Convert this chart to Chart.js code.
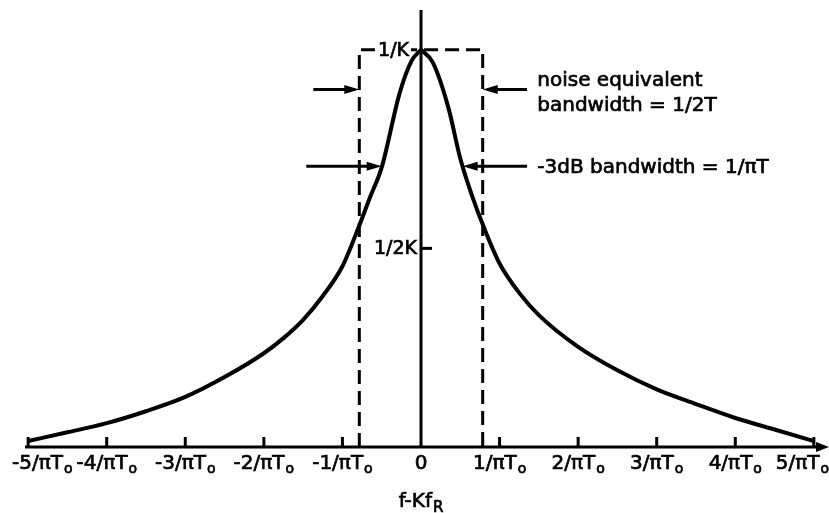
<!DOCTYPE html>
<html>
<head>
<meta charset="utf-8">
<script src="https://cdn.jsdelivr.net/npm/chart.js@4/dist/chart.umd.min.js"></script>
<style>
html, body { margin: 0; padding: 0; background: #fff; }
#chartBox { position: relative; width: 829px; height: 513px; }
</style>
</head>
<body>
<div id="chartBox"><canvas id="responseChart"></canvas></div>
<script>
// offset f-Kf_R in units of 1/(pi T0), response relative to the peak 1/K
var freqOffset = [-5, -4.5, -4, -3.5, -3, -2.5, -2, -1.75, -1.5, -1.25, -1, -0.8, -0.65, -0.5, -0.27, -0.12, 0,
                  0.15, 0.35, 0.5, 0.65, 0.8, 1, 1.25, 1.5, 2, 2.5, 3, 3.5, 4, 4.5, 5];
var response = [0.015, 0.037, 0.060, 0.090, 0.126, 0.176, 0.236, 0.274, 0.320, 0.380, 0.455, 0.550, 0.628, 0.704, 0.892, 0.972, 1.0,
                0.968, 0.853, 0.726, 0.632, 0.553, 0.462, 0.388, 0.332, 0.252, 0.193, 0.145, 0.108, 0.073, 0.044, 0.015];

// noise equivalent rectangle, half width 1/4T
var noiseBoxX = [-0.785, -0.785, 0.785, 0.785];
var noiseBoxY = [0, 1, 1, 0];

// x axis ticks
var tickValues = [-5, -4, -3, -2, -1, 0, 1, 2, 3, 4, 5];
var tickText = ["-5/πT", "-4/πT", "-3/πT", "-2/πT", "-1/πT", "0", "1/πT", "2/πT", "3/πT", "4/πT", "5/πT"];
var tickSub = ["o", "o", "o", "o", "o", "", "o", "o", "o", "o", "o"];

// levels marked on the vertical axis
var levelValues = [1, 0.5];
var levelText = ["1/K", "1/2K"];

// bandwidth markers: arrow level, tip and tail positions
var noiseArrowLevel = 0.9;
var noiseArrowTip = [-0.785, 0.785];
var noiseArrowTail = [-1.37, 1.35];
var halfPowerLevel = 0.707;
var halfPowerTip = [-0.5, 0.53];
var halfPowerTail = [-1.46, 1.35];

var mainFont = "20px 'DejaVu Sans'";
var subFont = "14px 'DejaVu Sans'";

// slightly heavier text than the plain face
function heavyText(ctx, text, x, y)
{
    ctx.fillText(text, x, y);
    ctx.lineWidth = 0.7;
    ctx.strokeText(text, x, y);
}

function drawSubText(ctx, main, sub, x, y, align, font, sFont, drop, maxRight)
{
    ctx.font = font;
    var w1 = ctx.measureText(main).width;
    ctx.font = sFont;
    var w2 = sub ? ctx.measureText(sub).width + 1 : 0;
    var total = w1 + w2;
    var start = x;
    if (align == "center") start = x - total / 2;
    if (align == "right") start = x - total;
    if (start < 12) start = 12;
    if (maxRight && start + total > maxRight) start = maxRight - total;
    ctx.textAlign = "left";
    ctx.textBaseline = "alphabetic";
    ctx.font = font;
    heavyText(ctx, main, start, y);
    if (sub)
    {
        ctx.font = sFont;
        heavyText(ctx, sub, start + w1 + 1, y + drop);
    }
}

function drawArrow(ctx, x1, x2, y)
{
    // shaft from x1 to the tip at x2
    var dir = x2 > x1 ? 1 : -1;
    ctx.lineWidth = 3;
    ctx.beginPath();
    ctx.moveTo(x1, y);
    ctx.lineTo(x2 - dir * 12, y);
    ctx.stroke();
    ctx.beginPath();
    ctx.moveTo(x2, y);
    ctx.lineTo(x2 - dir * 15, y - 4.5);
    ctx.lineTo(x2 - dir * 15, y + 4.5);
    ctx.closePath();
    ctx.fill();
}

var axesPlugin = {
    id: "axesPlugin",
    beforeDatasetsDraw: function (chart) {
        var ctx = chart.ctx;
        var xs = chart.scales.x, ys = chart.scales.y;
        var base = ys.getPixelForValue(0);
        ctx.save();
        ctx.strokeStyle = "#000";
        ctx.fillStyle = "#000";
        ctx.lineCap = "butt";

        // horizontal axis with arrow head
        ctx.lineWidth = 3;
        ctx.beginPath();
        ctx.moveTo(chart.chartArea.left, base);
        ctx.lineTo(chart.chartArea.right - 10, base);
        ctx.stroke();
        ctx.beginPath();
        ctx.moveTo(chart.chartArea.right + 1, base);
        ctx.lineTo(chart.chartArea.right - 12, base - 5);
        ctx.lineTo(chart.chartArea.right - 12, base + 5);
        ctx.closePath();
        ctx.fill();

        // vertical axis through zero
        var x0 = xs.getPixelForValue(0);
        ctx.beginPath();
        ctx.moveTo(x0, base);
        ctx.lineTo(x0, ys.getPixelForValue(ys.max));
        ctx.stroke();

        // ticks pointing up
        tickValues.forEach(function (v) {
            if (v == 0) return;
            var px = xs.getPixelForValue(v);
            ctx.beginPath();
            ctx.moveTo(px, base);
            ctx.lineTo(px, base - 10);
            ctx.stroke();
        });

        // 1/2K tick to the right of the axis
        var yHalf = ys.getPixelForValue(levelValues[1]);
        ctx.beginPath();
        ctx.moveTo(x0, yHalf);
        ctx.lineTo(x0 + 11, yHalf);
        ctx.stroke();
        ctx.restore();
    },
    afterDatasetsDraw: function (chart) {
        var ctx = chart.ctx;
        var xs = chart.scales.x, ys = chart.scales.y;
        var base = ys.getPixelForValue(0);
        var x0 = xs.getPixelForValue(0);
        ctx.save();
        ctx.fillStyle = "#000";
        ctx.strokeStyle = "#000";

        // tick labels
        tickValues.forEach(function (v, i) {
            drawSubText(ctx, tickText[i], tickSub[i], xs.getPixelForValue(v), base + 22, "center", mainFont, subFont, 4, 829);
        });

        // axis title
        drawSubText(ctx, "f-Kf", "R", x0, base + 60, "center", mainFont, "15px 'DejaVu Sans'", 5, 0);

        // level labels
        var yTop = ys.getPixelForValue(levelValues[0]);
        ctx.fillStyle = "#fff";
        ctx.fillRect(x0 - 46, yTop - 4, 36, 8);
        ctx.fillStyle = "#000";
        ctx.font = "19px 'DejaVu Sans'";
        ctx.textAlign = "right";
        ctx.textBaseline = "middle";
        heavyText(ctx, levelText[0], x0 - 12, yTop + 1);
        heavyText(ctx, levelText[1], x0 - 4, ys.getPixelForValue(levelValues[1]) + 1);

        // bandwidth arrows
        var yn = ys.getPixelForValue(noiseArrowLevel);
        var yh = ys.getPixelForValue(halfPowerLevel);
        for (var k = 0; k < 2; k++)
        {
            drawArrow(ctx, xs.getPixelForValue(noiseArrowTail[k]), xs.getPixelForValue(noiseArrowTip[k]), yn);
            drawArrow(ctx, xs.getPixelForValue(halfPowerTail[k]), xs.getPixelForValue(halfPowerTip[k]), yh);
        }

        // notes
        var tx = xs.getPixelForValue(1.48);
        ctx.font = mainFont;
        ctx.textAlign = "left";
        ctx.textBaseline = "alphabetic";
        heavyText(ctx, "noise equivalent", tx, yn - 3);
        heavyText(ctx, "bandwidth = 1/2T", tx, yn + 22);
        heavyText(ctx, "-3dB bandwidth = 1/πT", tx, yh + 7);
        ctx.restore();
    }
};

// each side of the peak is drawn as its own branch so the top stays pointed
function branch(keep)
{
    var pts = [];
    freqOffset.forEach(function (f, i) {
        if (keep(f)) pts.push({x: f, y: response[i]});
    });
    return pts;
}

var curveStyle = {
    borderColor: "#000",
    borderWidth: 4,
    pointRadius: 0,
    cubicInterpolationMode: "monotone",
    fill: false
};

var ctx = document.getElementById("responseChart");
var responseChart = new Chart(ctx, {
    type: "line",
    data: {
        datasets: [
            Object.assign({label: "response below", data: branch(function (f) { return f <= 0; })}, curveStyle),
            Object.assign({label: "response above", data: branch(function (f) { return f >= 0; })}, curveStyle),
            {
                label: "noise bandwidth",
                data: noiseBoxX.map(function (f, i) { return {x: f, y: noiseBoxY[i]}; }),
                borderColor: "#000",
                borderWidth: 3,
                borderDash: [14, 7],
                pointRadius: 0,
                tension: 0,
                fill: false
            }
        ]
    },
    options: {
        responsive: true,
        maintainAspectRatio: false,
        animation: false,
        layout: {
            padding: {left: 25, right: 1, top: 10, bottom: 66}
        },
        plugins: {
            legend: {display: false},
            tooltip: {enabled: false}
        },
        scales: {
            x: {type: "linear", min: -5.04, max: 5.18, display: false},
            y: {min: 0, max: 1.1, display: false}
        }
    },
    plugins: [axesPlugin]
});
</script>
</body>
</html>
